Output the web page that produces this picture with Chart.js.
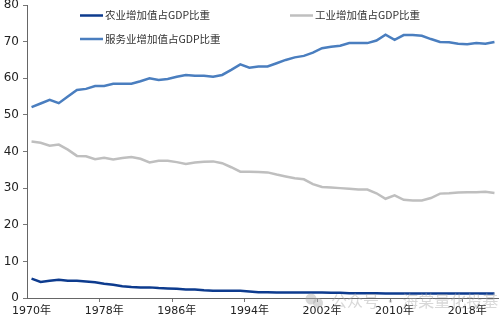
<!DOCTYPE html>
<html>
<head>
<meta charset="utf-8">
<script src="https://cdn.jsdelivr.net/npm/chart.js@4/dist/chart.umd.min.js"></script>
<style>
html,body{margin:0;padding:0;background:#fff;}
#wrap{position:relative;width:499px;height:322px;}
</style>
</head>
<body>
<div id="wrap"><canvas id="c" width="499" height="322"></canvas></div>
<script>
const years = [];
for (let y = 1970; y <= 2021; y++) years.push(y + '年');

const agriculture = [5.3,4.4,4.7,5.0,4.7,4.7,4.5,4.3,3.9,3.6,3.2,3.0,2.9,2.9,2.7,2.6,2.5,2.3,2.3,2.1,2.0,2.0,2.0,2.0,1.8,1.6,1.6,1.5,1.5,1.5,1.5,1.5,1.5,1.4,1.4,1.3,1.3,1.3,1.3,1.2,1.2,1.2,1.2,1.2,1.2,1.2,1.2,1.2,1.2,1.2,1.2,1.2];
const industry = [42.7,42.4,41.6,41.9,40.5,38.8,38.7,37.9,38.3,37.8,38.2,38.5,38.0,37.0,37.5,37.5,37.1,36.6,37.0,37.2,37.3,36.8,35.7,34.5,34.5,34.4,34.3,33.7,33.2,32.7,32.4,31.1,30.3,30.2,30.0,29.8,29.6,29.6,28.6,27.1,28.0,26.8,26.6,26.6,27.3,28.5,28.6,28.8,28.9,28.9,29.0,28.7];
const services = [52.1,53.1,54.1,53.2,55.0,56.8,57.1,57.9,57.9,58.5,58.5,58.5,59.2,60.0,59.5,59.8,60.4,60.9,60.7,60.7,60.4,60.9,62.3,63.8,62.9,63.2,63.2,64.1,65.0,65.7,66.1,67.0,68.2,68.6,68.9,69.6,69.6,69.6,70.3,71.9,70.5,71.8,71.8,71.6,70.7,69.9,69.8,69.4,69.3,69.6,69.4,69.9];

const seriesNames = ['农业增加值占GDP比重','工业增加值占GDP比重','服务业增加值占GDP比重'];
const seriesColors = ['#0d3b8e','#bfbfbf','#4a7ebf'];
const yTicks = [0,10,20,30,40,50,60,70,80];
const watermark = '公众号 · 海棠量化投基';

const legendPos = [{x:80,y:15.5},{x:290,y:15.5},{x:80,y:39}];

const legendPlugin = {
  id: 'customLegend',
  afterDraw(chart) {
    const ctx = chart.ctx;
    ctx.save();
    chart.data.datasets.forEach((ds, i) => {
      const p = legendPos[i];
      ctx.strokeStyle = ds.borderColor;
      ctx.lineWidth = ds.borderWidth;
      ctx.beginPath();
      ctx.moveTo(p.x, p.y);
      ctx.lineTo(p.x + 23, p.y);
      ctx.stroke();
      ctx.fillStyle = '#333';
      ctx.font = '10.5px "Noto Sans CJK SC", sans-serif';
      ctx.textBaseline = 'middle';
      ctx.textAlign = 'left';
      ctx.fillText(ds.label, p.x + 25, p.y);
    });
    // watermark
    ctx.globalAlpha = 0.45;
    ctx.fillStyle = '#a8a8a8';
    ctx.beginPath(); ctx.arc(311, 299, 5.5, 0, Math.PI*2); ctx.fill();
    ctx.beginPath(); ctx.arc(318, 303, 5, 0, Math.PI*2); ctx.fill();
    ctx.font = '16px "Noto Sans CJK SC", sans-serif';
    ctx.textBaseline = 'middle';
    ctx.fillText(watermark, 331, 301);
    ctx.restore();
  }
};

new Chart(document.getElementById('c'), {
  type: 'line',
  data: {
    labels: years,
    datasets: [
      {label: seriesNames[0], data: agriculture, borderColor: seriesColors[0], backgroundColor: seriesColors[0], borderWidth: 2.5},
      {label: seriesNames[1], data: industry, borderColor: seriesColors[1], backgroundColor: seriesColors[1], borderWidth: 2.5},
      {label: seriesNames[2], data: services, borderColor: seriesColors[2], backgroundColor: seriesColors[2], borderWidth: 2.5}
    ]
  },
  options: {
    responsive: false,
    animation: false,
    devicePixelRatio: 1,
    layout: {padding: {top: 5, right: 0, left: 0, bottom: 0}},
    elements: {point: {radius: 0}, line: {tension: 0}},
    plugins: {legend: {display: false}, tooltip: {enabled: false}},
    scales: {
      x: {
        type: 'category',
        offset: true,
        grid: {
          offset: true,
          drawOnChartArea: false,
          drawTicks: true,
          tickLength: 4,
          color: (c) => (c.index % 8 === 0 && c.index > 0) ? '#777' : 'rgba(0,0,0,0)'
        },
        border: {display: true, color: '#666', width: 1},
        ticks: {
          autoSkip: false,
          maxRotation: 0,
          minRotation: 0,
          padding: 3,
          color: '#222',
          font: {family: '"DejaVu Sans", "Noto Sans CJK SC", sans-serif', size: 11},
          callback: function(v, i) { return i % 8 === 0 ? this.getLabelForValue(v) : ''; }
        },
        afterFit(s) { s.height = 24; }
      },
      y: {
        min: 0, max: 80,
        afterBuildTicks(s) { s.ticks = yTicks.map(v => ({value: v})); },
        grid: {drawOnChartArea: false, drawTicks: true, tickLength: 4, color: '#777'},
        border: {display: true, color: '#666', width: 1},
        ticks: {
          padding: 4,
          color: '#222',
          font: {family: '"DejaVu Sans", sans-serif', size: 12, lineHeight: 0.8}
        },
        afterFit(s) { s.width = 27; s.paddingTop = 0; }
      }
    }
  },
  plugins: [legendPlugin]
});
</script>
</body>
</html>
